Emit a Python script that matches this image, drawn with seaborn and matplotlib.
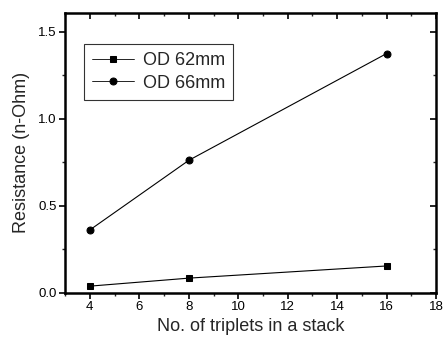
import pandas as pd
import seaborn as sns
import matplotlib.pyplot as plt
from matplotlib.ticker import MultipleLocator

# Data
triplets = [4, 8, 16]
od62 = [0.037, 0.083, 0.153]
od66 = [0.36, 0.76, 1.374]
labels = ["OD 62mm", "OD 66mm"]

df = pd.DataFrame({
    "triplets": triplets * 2,
    "resistance": od62 + od66,
    "series": [labels[0]] * 3 + [labels[1]] * 3,
})

sns.set_style("ticks")
plt.rcParams["font.family"] = ["Liberation Sans", "DejaVu Sans"]

fig = plt.figure(figsize=(4.46, 3.41), dpi=100)
ax = fig.add_axes([0.146, 0.142, 0.832, 0.820])

sns.lineplot(data=df, x="triplets", y="resistance", hue="series", style="series",
             markers={labels[0]: "s", labels[1]: "o"}, dashes=False,
             palette={labels[0]: "black", labels[1]: "black"},
             linewidth=0.8, markersize=5, markeredgecolor="black", ax=ax)

ax.set_xlim(3, 18)
ax.set_ylim(0, 1.607)
ax.xaxis.set_minor_locator(MultipleLocator(1))
ax.yaxis.set_minor_locator(MultipleLocator(0.25))
ax.set_xticks([4, 6, 8, 10, 12, 14, 16, 18])
ax.set_yticks([0.0, 0.5, 1.0, 1.5])
ax.set_yticklabels(["0.0", "0.5", "1.0", "1.5"])

for s in ax.spines.values():
    s.set_visible(True)
    s.set_linewidth(1.8)
    s.set_color("black")

ax.tick_params(which="major", length=4, width=1.2, labelsize=9.5, colors="black", pad=2)
ax.tick_params(which="minor", length=2.5, width=1.0)
ax.tick_params(which="both", top=True, right=True)

# Top/right mirrored ticks point inward
for t in ax.xaxis.get_major_ticks() + ax.xaxis.get_minor_ticks():
    t.tick2line.set_marker(3)
for t in ax.yaxis.get_major_ticks() + ax.yaxis.get_minor_ticks():
    t.tick2line.set_marker(0)

ax.set_xlabel("No. of triplets in a stack", fontsize=13, labelpad=4)
ax.set_ylabel("Resistance (n-Ohm)", fontsize=13, labelpad=6)

leg = ax.legend(loc="upper left", bbox_to_anchor=(0.051, 0.889), borderaxespad=0,
                fontsize=13, frameon=True, fancybox=False, edgecolor="black",
                handlelength=2.3, borderpad=0.45, labelspacing=0.3,
                handletextpad=0.5)
leg.get_frame().set_linewidth(0.8)
for h in leg.get_lines():
    h.set_linewidth(0.6)

fig.savefig("out.png", dpi=100)
